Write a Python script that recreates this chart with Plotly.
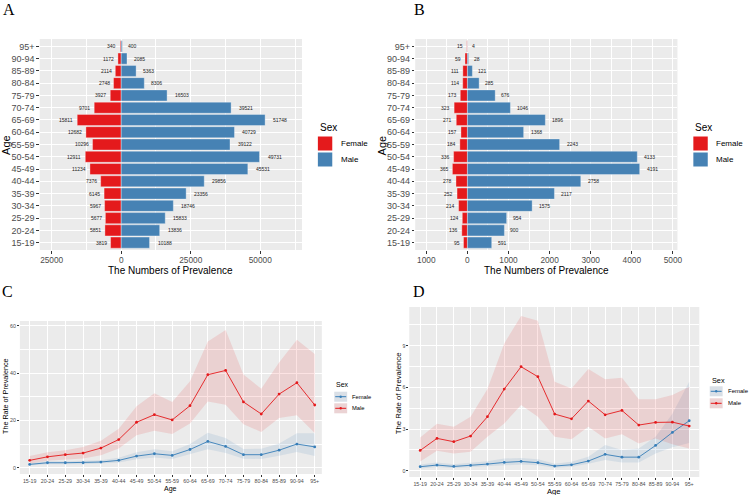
import plotly.graph_objects as go

W, H = 750, 495

ages = ["15-19", "20-24", "25-29", "30-34", "35-39", "40-44", "45-49", "50-54", "55-59",
        "60-64", "65-69", "70-74", "75-79", "80-84", "85-89", "90-94", "95+"]

# Panel A: numbers of prevalence
female_count_A = [3819, 5851, 5677, 5967, 6145, 7376, 11234, 12911, 10296, 12682, 15811, 9701, 3927, 2748, 2114, 1172, 340]
male_count_A = [10188, 13836, 15833, 18746, 23356, 29856, 45531, 49731, 39122, 40729, 51748, 39521, 16503, 8306, 5363, 2085, 400]
# Panel B: numbers of prevalence
female_count_B = [95, 136, 124, 214, 252, 278, 365, 336, 184, 157, 271, 323, 173, 114, 111, 59, 15]
male_count_B = [591, 900, 954, 1575, 2117, 2758, 4191, 4133, 2243, 1368, 1896, 1046, 676, 285, 121, 28, 4]

# Panel C: rate of prevalence
male_rate_C = [3.1, 4.6, 5.5, 6.2, 8.3, 11.9, 19.2, 22.4, 20.2, 26.2, 39.3, 41.1, 27.8, 22.7, 31.1, 35.9, 26.5]
male_hi_C = [4.9, 6.5, 7.4, 8.8, 11.4, 16.5, 26.0, 31.5, 27.8, 36.5, 53.3, 58.2, 39.4, 33.4, 44.5, 54.1, 48.1]
male_lo_C = [1.8, 2.9, 3.5, 3.9, 5.3, 8.1, 13.7, 15.6, 14.2, 18.7, 28.0, 26.6, 18.4, 15.1, 21.0, 22.2, 14.7]
female_rate_C = [1.4, 2.1, 2.1, 2.1, 2.4, 3.1, 4.9, 5.9, 5.2, 7.7, 11.1, 9.0, 5.5, 5.5, 7.4, 10.0, 8.8]
female_hi_C = [1.9, 2.7, 2.7, 2.8, 3.2, 4.2, 6.5, 7.8, 7.0, 10.0, 14.8, 12.6, 7.9, 8.0, 10.2, 14.6, 14.6]
female_lo_C = [0.9, 1.5, 1.5, 1.5, 1.7, 2.2, 3.6, 4.3, 3.7, 5.6, 7.8, 6.2, 3.8, 3.7, 5.1, 6.6, 4.9]

# Panel D: rate of prevalence
male_rate_D = [1.46, 2.33, 2.09, 2.50, 3.89, 5.88, 7.49, 6.77, 4.08, 3.74, 5.02, 4.03, 4.34, 3.29, 3.48, 3.50, 3.22]
male_hi_D = [2.40, 3.38, 3.17, 3.89, 5.88, 9.17, 11.14, 10.80, 6.41, 5.93, 7.32, 6.58, 6.70, 5.14, 5.14, 5.45, 6.05]
male_lo_D = [0.67, 1.44, 1.25, 1.37, 2.45, 3.41, 4.73, 3.89, 2.45, 2.26, 3.17, 2.33, 2.62, 1.97, 2.33, 1.90, 1.60]
female_rate_D = [0.29, 0.41, 0.31, 0.38, 0.48, 0.60, 0.67, 0.58, 0.34, 0.43, 0.70, 1.18, 0.98, 0.98, 1.82, 2.76, 3.60]
female_hi_D = [0.45, 0.60, 0.47, 0.55, 0.68, 0.88, 0.92, 0.82, 0.50, 0.65, 1.00, 1.85, 1.50, 1.60, 2.45, 4.10, 6.40]
female_lo_D = [0.17, 0.27, 0.20, 0.25, 0.33, 0.40, 0.45, 0.40, 0.22, 0.28, 0.50, 0.78, 0.60, 0.60, 1.25, 1.70, 2.00]

RED = "#E41A1C"
BLUE = "#4682B4"
LBLUE = "#377EB8"
BG = "#EBEBEB"
TICK = "#4D4D4D"
FONT = "Liberation Sans"
SERIF = "Liberation Serif"


def px(x):
    return x / W


def py(y):
    return 1 - y / H


fig = go.Figure()

# ---------- bar panels ----------
for (fem, mal, xa, ya) in [(female_count_A, male_count_A, "x", "y"),
                           (female_count_B, male_count_B, "x2", "y2")]:
    fig.add_trace(go.Bar(y=ages, x=[-v for v in fem], orientation="h", width=0.9,
                         marker=dict(color=RED, line=dict(color="rgba(255,255,255,0.55)", width=0.6)),
                         xaxis=xa, yaxis=ya, showlegend=False, hoverinfo="skip"))
    fig.add_trace(go.Bar(y=ages, x=mal, orientation="h", width=0.9,
                         marker=dict(color=BLUE, line=dict(color="rgba(255,255,255,0.55)", width=0.6)),
                         xaxis=xa, yaxis=ya, showlegend=False, hoverinfo="skip"))

annotations = []
for (fem, mal, xa, ya) in [(female_count_A, male_count_A, "x", "y"),
                           (female_count_B, male_count_B, "x2", "y2")]:
    for a, f, m in zip(ages, fem, mal):
        annotations.append(dict(x=-f, y=a, xref=xa, yref=ya, text=str(f), showarrow=False,
                                xanchor="right", xshift=-1.8, font=dict(size=5, color="#222", family=FONT)))
        annotations.append(dict(x=m, y=a, xref=xa, yref=ya, text=str(m), showarrow=False,
                                xanchor="left", xshift=1.0 + 1.0 * len(str(m)),
                                font=dict(size=5, color="#222", family=FONT)))

# ---------- line panels ----------
for (f, fh, fl, m, mh, ml, xa, ya) in [
    (female_rate_C, female_hi_C, female_lo_C, male_rate_C, male_hi_C, male_lo_C, "x3", "y3"),
    (female_rate_D, female_hi_D, female_lo_D, male_rate_D, male_hi_D, male_lo_D, "x4", "y4")]:
    fig.add_trace(go.Scatter(x=ages + ages[::-1], y=fh + fl[::-1], fill="toself",
                             fillcolor="rgba(55,126,184,0.12)", line=dict(width=0),
                             mode="lines", xaxis=xa, yaxis=ya, showlegend=False, hoverinfo="skip"))
    fig.add_trace(go.Scatter(x=ages + ages[::-1], y=mh + ml[::-1], fill="toself",
                             fillcolor="rgba(228,26,28,0.12)", line=dict(width=0),
                             mode="lines", xaxis=xa, yaxis=ya, showlegend=False, hoverinfo="skip"))
    fig.add_trace(go.Scatter(x=ages, y=f, mode="lines+markers", line=dict(color=LBLUE, width=0.9),
                             marker=dict(color=LBLUE, size=2.8), xaxis=xa, yaxis=ya,
                             showlegend=False, hoverinfo="skip"))
    fig.add_trace(go.Scatter(x=ages, y=m, mode="lines+markers", line=dict(color=RED, width=0.9),
                             marker=dict(color=RED, size=2.8), xaxis=xa, yaxis=ya,
                             showlegend=False, hoverinfo="skip"))

common_ax = dict(showline=False, zeroline=False, gridcolor="white", gridwidth=1,
                 ticks="outside", ticklen=2.5, tickwidth=0.8, tickcolor="#333333")
small_ax = dict(showline=False, zeroline=False, gridcolor="white", gridwidth=0.9,
                ticks="outside", ticklen=1.8, tickwidth=0.6, tickcolor="#333333")

fig.update_layout(
    width=W, height=H, margin=dict(l=0, r=0, t=0, b=0),
    paper_bgcolor="white", plot_bgcolor=BG, barmode="overlay",
    font=dict(family=FONT),
    xaxis=dict(domain=[px(40), px(304)], anchor="y", range=[-29290, 65000],
               tickvals=[-25000, 0, 25000, 50000], ticktext=["25000", "0", "25000", "50000"],
               tickfont=dict(size=8.3, color=TICK),
               minor=dict(tick0=12500, dtick=25000, showgrid=True, gridcolor="white", gridwidth=0.5, ticks=""),
               **common_ax),
    yaxis=dict(domain=[py(250), py(39)], anchor="x", type="category", categoryorder="array",
               categoryarray=ages, range=[-0.6, 16.6], tickfont=dict(size=9, color=TICK), **common_ax),
    xaxis2=dict(domain=[px(418), px(682)], anchor="y2", range=[-1270, 5110],
                tickvals=[-1000, 0, 1000, 2000, 3000, 4000, 5000],
                ticktext=["1000", "0", "1000", "2000", "3000", "4000", "5000"],
                tickfont=dict(size=8.3, color=TICK),
                minor=dict(tick0=500, dtick=1000, showgrid=True, gridcolor="white", gridwidth=0.5, ticks=""),
                **common_ax),
    yaxis2=dict(domain=[py(250), py(39)], anchor="x2", type="category", categoryorder="array",
                categoryarray=ages, range=[-0.6, 16.6], tickfont=dict(size=9, color=TICK), **common_ax),
    xaxis3=dict(domain=[px(20), px(324)], anchor="y3", type="category", categoryorder="array",
                categoryarray=ages, range=[-0.55, 16.4], tickfont=dict(size=5.3, color=TICK),
                **small_ax),
    yaxis3=dict(domain=[py(474), py(321)], anchor="x3", range=[-2.66, 62],
                tickvals=[0, 20, 40, 60], tickfont=dict(size=5.3, color=TICK),
                minor=dict(tick0=10, dtick=20, showgrid=True, gridcolor="white", gridwidth=0.5, ticks=""),
                **small_ax),
    xaxis4=dict(domain=[px(412), px(704)], anchor="y4", type="category", categoryorder="array",
                categoryarray=ages, range=[-0.65, 16.6], tickfont=dict(size=5.3, color=TICK),
                **small_ax),
    yaxis4=dict(domain=[py(477), py(307)], anchor="x4", range=[-0.45, 11.79],
                tickvals=[0, 3, 6, 9], tickfont=dict(size=5.3, color=TICK),
                minor=dict(tick0=1.5, dtick=3, showgrid=True, gridcolor="white", gridwidth=0.5, ticks=""),
                **small_ax),
)


def txt(x, y, s, size, angle=0, xanchor="center", family=FONT, color="black"):
    annotations.append(dict(x=px(x), y=py(y), xref="paper", yref="paper", text=s, showarrow=False,
                            xanchor=xanchor, yanchor="middle", textangle=angle,
                            font=dict(size=size, family=family, color=color)))


# panel letters
txt(9, 9, "A", 16, family=SERIF)
txt(422, 9, "B", 16, family=SERIF)
txt(8, 291, "C", 16, family=SERIF)
txt(422, 291, "D", 16, family=SERIF)

# axis titles
txt(172, 270, "The Numbers of Prevalence", 10)
txt(550, 270, "The Numbers of Prevalence", 10)
txt(6, 145, "Age", 11, angle=-90)
txt(385, 145, "Age", 11, angle=-90)
txt(172, 489, "Age", 7)
txt(558, 491.5, "Age", 7.6)
txt(5, 396, "The Rate of Prevalence", 7.2, angle=-90)
txt(401, 393, "The Rate of Prevalence", 7.8, angle=-90)

shapes = []


def rect(x0, y0, x1, y1, color, line=None):
    shapes.append(dict(type="rect", xref="paper", yref="paper", x0=px(x0), x1=px(x1),
                       y0=py(y1), y1=py(y0), fillcolor=color,
                       line=dict(width=0) if line is None else line, layer="above"))


# legends A/B
for lx in (320, 698):
    txt(lx, 127, "Sex", 10, xanchor="left")
    rect(lx, 136.5, lx + 14.5, 150.5, RED)
    rect(lx, 152.5, lx + 14.5, 166.5, BLUE)
    txt(lx + 21, 143.5, "Female", 8, xanchor="left")
    txt(lx + 21, 159.5, "Male", 8, xanchor="left")

# legends C/D
for (lx, ty, fy, my, ts, es) in [(336.5, 384, 396.7, 408.3, 7, 5.8), (714.5, 380, 391.3, 403.3, 7.3, 6)]:
    txt(lx, ty, "Sex", ts, xanchor="left")
    for (cy, col, fillc) in [(fy, LBLUE, "#D9DFE6"), (my, RED, "#EBD3D4")]:
        rect(lx, cy - 5, lx + 13, cy + 5, fillc)
        shapes.append(dict(type="line", xref="paper", yref="paper", x0=px(lx + 1), x1=px(lx + 12),
                           y0=py(cy), y1=py(cy), line=dict(color=col, width=1), layer="above"))
        shapes.append(dict(type="circle", xref="paper", yref="paper", x0=px(lx + 5.3), x1=px(lx + 7.7),
                           y0=py(cy + 1.2), y1=py(cy - 1.2), fillcolor=col, line=dict(width=0),
                           layer="above"))
    txt(lx + 16, fy, "Female", es, xanchor="left")
    txt(lx + 16, my, "Male", es, xanchor="left")

fig.update_layout(annotations=annotations, shapes=shapes)
fig.write_html("out.html")
